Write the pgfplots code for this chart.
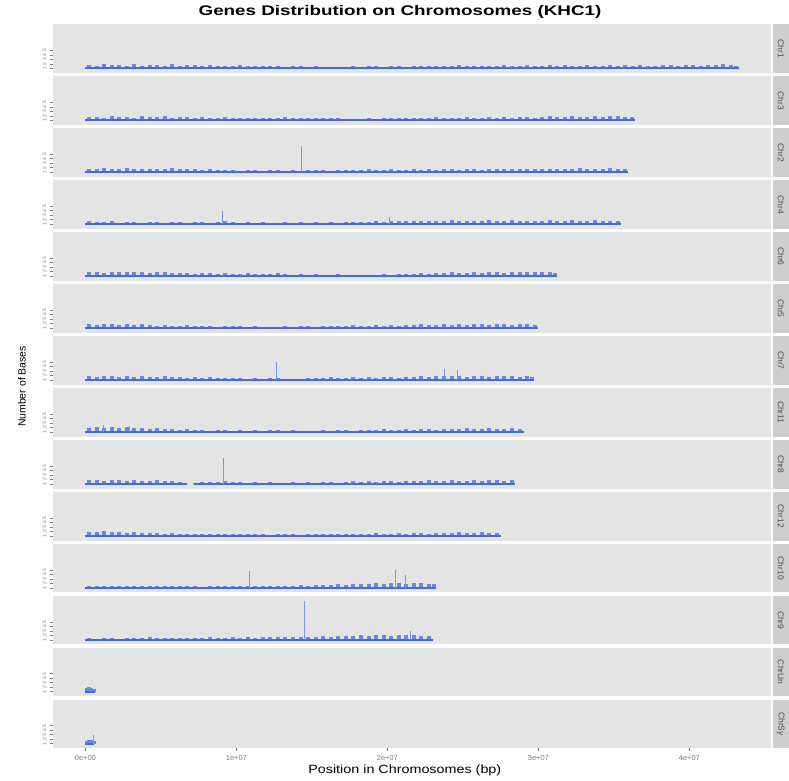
\documentclass[border=0pt]{standalone}
\usepackage{pgfplots}
\pgfplotsset{compat=1.18}
\usepgfplotslibrary{groupplots}
\usepackage{fontspec}
\setmainfont{Liberation Sans}
\definecolor{panelbg}{RGB}{229,228,228}
\definecolor{stripbg}{RGB}{206,206,206}
\definecolor{genebl}{RGB}{65,105,225}
\definecolor{ticklab}{RGB}{125,125,125}
\pgfplotsset{
  chrpanel/.style={
    width=718.6bp, height=48.45bp, scale only axis,
    xmin=-2.16, xmax=45.43, ymin=-1.04, ymax=9.73,
    axis background/.style={fill=panelbg},
    axis line style={draw=none},
    xtick=\empty,
    ytick={0,1,2,3,4}, yticklabels={1,2,3,4,5},
    ytick pos=left, xtick pos=bottom,
    yticklabel style={rotate=90, font=\fontsize{5}{5}\selectfont, text=ticklab},
    xticklabel style={font=\fontsize{7.5}{8}\selectfont, text=ticklab},
    tick style={draw=ticklab, line width=0.4bp},
    major tick length=3bp,
    tick align=outside,
    clip=false,
  },
  bars/.style={ycomb, genebl, line width=4bp, opacity=0.75, forget plot},
  spikes/.style={ycomb, genebl!70, line width=0.7bp, forget plot},
  base/.style={genebl, line width=1.8bp, forget plot},
}
\newcommand{\strip}[1]{%
  \fill[stripbg] ([xshift=1.5bp]rel axis cs:1,0) rectangle ([xshift=17.5bp]rel axis cs:1,1);
  \node[rotate=-90, font=\fontsize{8.5}{8.5}\selectfont, text=black!70] at ([xshift=9.5bp]rel axis cs:1,0.5) {#1};}
\begin{document}
\begin{tikzpicture}
\begin{groupplot}[group style={group size=1 by 14, vertical sep=3.5bp}, chrpanel]
% Chr1
\nextgroupplot
\coordinate (tl) at (rel axis cs:0,1);
\addplot[base] coordinates {(0,0) (43.27,0)};
\addplot[bars] coordinates {(0.25,.8)(0.75,.6)(1.25,.9)(1.75,.7)(2.25,.8)(2.75,.5)(3.25,.9)(3.75,.6)(4.25,.7)(4.75,.8)(5.25,.6)(5.75,.9)(6.25,.5)(6.75,.7)(7.25,.8)(7.75,.5)(8.25,.7)(8.75,.6)(9.25,.4)(9.75,.6)(10.25,.7)(10.75,.5)(11.25,.4)(11.75,.6)(12.25,.5)(12.75,.4)(13.25,.3)(13.75,.5)(14.25,.4)(14.75,.3)(15.25,.4)(15.75,.2)(16.25,.3)(16.75,.2)(17.25,.3)(17.75,.4)(18.25,.3)(18.75,.5)(19.25,.4)(19.75,.3)(20.25,.5)(20.75,.4)(21.25,.3)(21.75,.5)(22.25,.6)(22.75,.4)(23.25,.5)(23.75,.6)(24.25,.5)(24.75,.7)(25.25,.5)(25.75,.6)(26.25,.4)(26.75,.6)(27.25,.5)(27.75,.7)(28.25,.6)(28.75,.5)(29.25,.7)(29.75,.6)(30.25,.5)(30.75,.7)(31.25,.6)(31.75,.8)(32.25,.5)(32.75,.6)(33.25,.7)(33.75,.5)(34.25,.6)(34.75,.7)(35.25,.5)(35.75,.8)(36.25,.6)(36.75,.7)(37.25,.5)(37.75,.6)(38.25,.8)(38.75,.7)(39.25,.6)(39.75,.8)(40.25,.7)(40.75,.6)(41.25,.8)(41.75,.7)(42.25,.9)(42.75,.7)(43.1,.6)};
\strip{Chr1}
% Chr3
\nextgroupplot
\addplot[base] coordinates {(0,0) (36.41,0)};
\addplot[bars] coordinates {(0.25,.7)(0.75,.8)(1.25,.6)(1.75,.9)(2.25,.7)(2.75,.8)(3.25,.6)(3.75,.9)(4.25,.7)(4.75,.8)(5.25,.9)(5.75,.6)(6.25,.8)(6.75,.7)(7.25,.5)(7.75,.7)(8.25,.6)(8.75,.5)(9.25,.7)(9.75,.6)(10.25,.5)(10.75,.6)(11.25,.4)(11.75,.5)(12.25,.6)(12.75,.5)(13.25,.7)(13.75,.4)(14.25,.5)(14.75,.6)(15.25,.5)(15.75,.4)(16.25,.6)(16.75,.5)(17.25,.3)(17.75,.2)(18.25,.3)(18.75,.4)(19.25,.3)(19.75,.5)(20.25,.4)(20.75,.6)(21.25,.5)(21.75,.4)(22.25,.6)(22.75,.5)(23.25,.7)(23.75,.5)(24.25,.6)(24.75,.5)(25.25,.7)(25.75,.6)(26.25,.5)(26.75,.7)(27.25,.6)(27.75,.8)(28.25,.6)(28.75,.7)(29.25,.8)(29.75,.6)(30.25,.7)(30.75,.9)(31.25,.7)(31.75,.8)(32.25,.9)(32.75,.7)(33.25,.8)(33.75,.9)(34.25,.8)(34.75,1.0)(35.25,.9)(35.75,.8)(36.2,.7)};
\strip{Chr3}
% Chr2
\nextgroupplot
\addplot[base] coordinates {(0,0) (35.94,0)};
\addplot[bars] coordinates {(0.25,.8)(0.75,.6)(1.25,.9)(1.75,.8)(2.25,.6)(2.75,.9)(3.25,.7)(3.75,.8)(4.25,.6)(4.75,.8)(5.25,.7)(5.75,.9)(6.25,.6)(6.75,.7)(7.25,.8)(7.75,.5)(8.25,.6)(8.75,.4)(9.25,.5)(9.75,.4)(10.25,.3)(10.75,.5)(11.25,.4)(11.75,.3)(12.25,.4)(12.75,.5)(13.25,.3)(13.75,.4)(14.25,.3)(14.75,.4)(15.25,.5)(15.75,.4)(16.25,.3)(16.75,.5)(17.25,.4)(17.75,.5)(18.25,.4)(18.75,.6)(19.25,.5)(19.75,.4)(20.25,.6)(20.75,.5)(21.25,.4)(21.75,.6)(22.25,.5)(22.75,.6)(23.25,.4)(23.75,.6)(24.25,.7)(24.75,.5)(25.25,.6)(25.75,.7)(26.25,.5)(26.75,.6)(27.25,.7)(27.75,.8)(28.25,.6)(28.75,.7)(29.25,.8)(29.75,.6)(30.25,.7)(30.75,.8)(31.25,.6)(31.75,.7)(32.25,.8)(32.75,.9)(33.25,.7)(33.75,.8)(34.25,.7)(34.75,.9)(35.25,.8)(35.75,.7)};
\addplot[spikes] coordinates {(14.3,5.8)};
\strip{Chr2}
% Chr4
\nextgroupplot
\addplot[base] coordinates {(0,0) (35.50,0)};
\addplot[bars] coordinates {(0.25,.6)(0.75,.5)(1.25,.4)(1.75,.6)(2.25,.3)(2.75,.5)(3.25,.4)(3.75,.3)(4.25,.5)(4.75,.4)(5.25,.3)(5.75,.5)(6.25,.4)(6.75,.3)(7.25,.4)(7.75,.5)(8.25,.3)(8.75,.4)(9.25,.6)(9.75,.4)(10.25,.3)(10.75,.4)(11.25,.3)(11.75,.5)(12.25,.3)(12.75,.2)(13.25,.4)(13.75,.3)(14.25,.4)(14.75,.3)(15.25,.5)(15.75,.3)(16.25,.4)(16.75,.3)(17.25,.5)(17.75,.4)(18.25,.5)(18.75,.4)(19.25,.6)(19.75,.5)(20.25,.7)(20.75,.6)(21.25,.7)(21.75,.8)(22.25,.6)(22.75,.7)(23.25,.8)(23.75,.7)(24.25,.9)(24.75,.7)(25.25,.8)(25.75,.6)(26.25,.8)(26.75,.9)(27.25,.7)(27.75,.8)(28.25,.9)(28.75,.7)(29.25,.8)(29.75,.6)(30.25,.8)(30.75,.9)(31.25,.7)(31.75,.8)(32.25,.9)(32.75,.7)(33.25,.8)(33.75,.9)(34.25,.7)(34.75,.8)(35.25,.7)};
\addplot[spikes] coordinates {(9.1,3.0)(20.1,1.5)};
\strip{Chr4}
% Chr6
\nextgroupplot
\addplot[base] coordinates {(0,0) (31.25,0)};
\addplot[bars] coordinates {(0.25,.8)(0.75,.9)(1.25,.7)(1.75,.9)(2.25,.8)(2.75,1.0)(3.25,.8)(3.75,.9)(4.25,.7)(4.75,.8)(5.25,.9)(5.75,.7)(6.25,.6)(6.75,.7)(7.25,.5)(7.75,.6)(8.25,.7)(8.75,.5)(9.25,.6)(9.75,.5)(10.25,.4)(10.75,.6)(11.25,.5)(11.75,.4)(12.25,.5)(12.75,.6)(13.25,.4)(13.75,.3)(14.25,.4)(14.75,.3)(15.25,.4)(15.75,.2)(16.25,.3)(16.75,.4)(17.25,.3)(17.75,.2)(18.25,.1)(18.75,.1)(19.25,.3)(19.75,.4)(20.25,.3)(20.75,.5)(21.25,.4)(21.75,.5)(22.25,.6)(22.75,.5)(23.25,.7)(23.75,.6)(24.25,.8)(24.75,.7)(25.25,.6)(25.75,.8)(26.25,.7)(26.75,.9)(27.25,.8)(27.75,.7)(28.25,.9)(28.75,.8)(29.25,1.0)(29.75,.8)(30.25,.9)(30.75,.8)(31.1,.7)};
\strip{Chr6}
% Chr5
\nextgroupplot
\addplot[base] coordinates {(0,0) (29.96,0)};
\addplot[bars] coordinates {(0.25,.8)(0.75,.7)(1.25,.9)(1.75,.8)(2.25,.7)(2.75,.9)(3.25,.6)(3.75,.8)(4.25,.6)(4.75,.5)(5.25,.6)(5.75,.5)(6.25,.4)(6.75,.6)(7.25,.5)(7.75,.4)(8.25,.5)(8.75,.3)(9.25,.5)(9.75,.4)(10.25,.5)(10.75,.3)(11.25,.4)(11.75,.3)(12.25,.2)(12.75,.3)(13.25,.4)(13.75,.3)(14.25,.5)(14.75,.4)(15.25,.3)(15.75,.5)(16.25,.4)(16.75,.5)(17.25,.4)(17.75,.6)(18.25,.5)(18.75,.4)(19.25,.6)(19.75,.5)(20.25,.6)(20.75,.5)(21.25,.7)(21.75,.6)(22.25,.8)(22.75,.7)(23.25,.6)(23.75,.8)(24.25,.7)(24.75,.9)(25.25,.7)(25.75,.8)(26.25,.9)(26.75,.7)(27.25,.8)(27.75,.9)(28.25,.7)(28.75,.8)(29.25,.9)(29.75,.7)};
\strip{Chr5}
% Chr7
\nextgroupplot
\addplot[base] coordinates {(0,0) (29.70,0)};
\addplot[bars] coordinates {(0.25,.8)(0.75,.7)(1.25,.9)(1.75,.8)(2.25,.7)(2.75,.8)(3.25,.6)(3.75,.8)(4.25,.7)(4.75,.6)(5.25,.8)(5.75,.6)(6.25,.7)(6.75,.5)(7.25,.6)(7.75,.5)(8.25,.7)(8.75,.5)(9.25,.4)(9.75,.5)(10.25,.4)(10.75,.3)(11.25,.4)(11.75,.3)(12.25,.5)(12.75,.4)(13.25,.3)(13.75,.1)(14.25,.2)(14.75,.4)(15.25,.5)(15.75,.4)(16.25,.6)(16.75,.5)(17.25,.4)(17.75,.6)(18.25,.5)(18.75,.6)(19.25,.5)(19.75,.7)(20.25,.6)(20.75,.5)(21.25,.7)(21.75,.6)(22.25,.8)(22.75,.7)(23.25,.8)(23.75,.9)(24.25,.8)(24.75,.9)(25.25,.7)(25.75,.8)(26.25,.9)(26.75,.7)(27.25,.8)(27.75,.9)(28.25,.8)(28.75,.7)(29.25,.8)(29.6,.6)};
\addplot[spikes] coordinates {(12.67,4.1)(23.8,2.5)(24.6,2.3)};
\strip{Chr7}
% Chr11
\nextgroupplot
\addplot[base] coordinates {(0,0) (29.02,0)};
\addplot[bars] coordinates {(0.25,.9)(0.75,1.1)(1.25,.8)(1.75,1.2)(2.25,.9)(2.75,1.0)(3.25,.8)(3.75,.9)(4.25,.7)(4.75,.8)(5.25,.6)(5.75,.7)(6.25,.5)(6.75,.6)(7.25,.4)(7.75,.5)(8.25,.3)(8.75,.5)(9.25,.4)(9.75,.3)(10.25,.4)(10.75,.2)(11.25,.4)(11.75,.3)(12.25,.4)(12.75,.5)(13.25,.3)(13.75,.4)(14.25,.3)(14.75,.2)(15.25,.3)(15.75,.4)(16.25,.3)(16.75,.4)(17.25,.5)(17.75,.3)(18.25,.4)(18.75,.5)(19.25,.4)(19.75,.6)(20.25,.5)(20.75,.4)(21.25,.6)(21.75,.5)(22.25,.6)(22.75,.7)(23.25,.5)(23.75,.6)(24.25,.7)(24.75,.6)(25.25,.8)(25.75,.7)(26.25,.6)(26.75,.8)(27.25,.7)(27.75,.6)(28.25,.8)(28.75,.6)};
\addplot[spikes] coordinates {(1.2,1.6)(2.9,1.4)};
\strip{Chr11}
% Chr8
\nextgroupplot
\addplot[base] coordinates {(0,0) (6.7,0)};
\addplot[base] coordinates {(7.2,0) (28.44,0)};
\addplot[bars] coordinates {(0.25,.8)(0.75,.9)(1.25,.7)(1.75,.8)(2.25,.9)(2.75,.7)(3.25,.8)(3.75,.6)(4.25,.7)(4.75,.8)(5.25,.6)(5.75,.7)(6.25,.5)(7.25,.2)(7.75,.4)(8.25,.5)(8.75,.4)(9.25,.6)(9.75,.4)(10.25,.5)(10.75,.3)(11.25,.4)(11.75,.3)(12.25,.4)(12.75,.2)(13.25,.3)(13.75,.4)(14.25,.3)(14.75,.4)(15.25,.3)(15.75,.5)(16.25,.4)(16.75,.3)(17.25,.5)(17.75,.6)(18.25,.4)(18.75,.6)(19.25,.5)(19.75,.7)(20.25,.6)(20.75,.5)(21.25,.7)(21.75,.6)(22.25,.7)(22.75,.8)(23.25,.6)(23.75,.7)(24.25,.8)(24.75,.6)(25.25,.7)(25.75,.8)(26.25,.7)(26.75,.9)(27.25,.8)(27.75,.7)(28.25,.8)};
\addplot[spikes] coordinates {(9.13,5.7)};
\strip{Chr8}
% Chr12
\nextgroupplot
\addplot[base] coordinates {(0,0) (27.53,0)};
\addplot[bars] coordinates {(0.25,.9)(0.75,.8)(1.25,1.0)(1.75,.8)(2.25,.9)(2.75,.7)(3.25,.8)(3.75,.7)(4.25,.6)(4.75,.7)(5.25,.5)(5.75,.6)(6.25,.4)(6.75,.5)(7.25,.4)(7.75,.3)(8.25,.5)(8.75,.4)(9.25,.3)(9.75,.4)(10.25,.3)(10.75,.5)(11.25,.4)(11.75,.3)(12.25,.2)(12.75,.3)(13.25,.4)(13.75,.3)(14.25,.2)(14.75,.4)(15.25,.3)(15.75,.4)(16.25,.5)(16.75,.3)(17.25,.4)(17.75,.5)(18.25,.4)(18.75,.5)(19.25,.6)(19.75,.4)(20.25,.5)(20.75,.6)(21.25,.5)(21.75,.7)(22.25,.6)(22.75,.5)(23.25,.7)(23.75,.6)(24.25,.7)(24.75,.8)(25.25,.6)(25.75,.7)(26.25,.8)(26.75,.6)(27.25,.7)};
\strip{Chr12}
% Chr10
\nextgroupplot
\addplot[base] coordinates {(0,0) (23.21,0)};
\addplot[bars] coordinates {(0.25,.4)(0.75,.3)(1.25,.5)(1.75,.3)(2.25,.4)(2.75,.3)(3.25,.5)(3.75,.4)(4.25,.3)(4.75,.4)(5.25,.3)(5.75,.5)(6.25,.4)(6.75,.3)(7.25,.4)(7.75,.2)(8.25,.4)(8.75,.3)(9.25,.4)(9.75,.3)(10.25,.5)(10.75,.4)(11.25,.3)(11.75,.5)(12.25,.4)(12.75,.3)(13.25,.5)(13.75,.4)(14.25,.6)(14.75,.5)(15.25,.6)(15.75,.7)(16.25,.6)(16.75,.8)(17.25,.7)(17.75,.8)(18.25,.9)(18.75,.8)(19.25,1.0)(19.75,.9)(20.25,1.0)(20.75,1.1)(21.25,.9)(21.75,1.0)(22.25,1.1)(22.75,.9)(23.1,.8)};
\addplot[spikes] coordinates {(10.86,3.7)(20.5,4.0)(21.2,2.9)};
\strip{Chr10}
% Chr9
\nextgroupplot
\addplot[base] coordinates {(0,0) (23.01,0)};
\addplot[bars] coordinates {(0.25,.3)(0.75,.2)(1.25,.4)(1.75,.3)(2.25,.2)(2.75,.3)(3.25,.4)(3.75,.3)(4.25,.5)(4.75,.3)(5.25,.4)(5.75,.3)(6.25,.4)(6.75,.3)(7.25,.4)(7.75,.3)(8.25,.5)(8.75,.4)(9.25,.3)(9.75,.5)(10.25,.4)(10.75,.5)(11.25,.4)(11.75,.6)(12.25,.5)(12.75,.6)(13.25,.5)(13.75,.7)(14.25,.6)(14.75,.7)(15.25,.6)(15.75,.8)(16.25,.7)(16.75,.8)(17.25,.9)(17.75,.8)(18.25,1.0)(18.75,.9)(19.25,1.0)(19.75,1.1)(20.25,.9)(20.75,1.0)(21.25,1.1)(21.75,1.0)(22.25,.9)(22.75,.8)};
\addplot[spikes] coordinates {(14.48,8.7)(21.5,2.0)};
\strip{Chr9}
% ChrUn
\nextgroupplot
\addplot[base] coordinates {(0,0) (0.63,0)};
\addplot[bars] coordinates {(0.1,.8)(0.25,1.0)(0.4,.9)(0.55,.7)};
\strip{ChrUn}
% ChrSy
\nextgroupplot[xtick={0,10,20,30,40}, xticklabels={0e+00,1e+07,2e+07,3e+07,4e+07}]
\addplot[base] coordinates {(0,0) (0.59,0)};
\addplot[bars] coordinates {(0.1,.6)(0.25,.8)(0.4,.7)(0.55,.5)};
\addplot[spikes] coordinates {(0.5,2.0)};
\strip{ChrSy}
\end{groupplot}
\node[font=\bfseries\fontsize{14}{14}\selectfont, anchor=center, xscale=1.35] at ([xshift=347.2bp, yshift=12.5bp]tl) {Genes Distribution on Chromosomes (KHC1)};
\node[font=\fontsize{12}{12}\selectfont, anchor=center, xscale=1.2] at ([xshift=352bp, yshift=-746bp]tl) {Position in Chromosomes (bp)};
\node[font=\fontsize{10.5}{10.5}\selectfont, rotate=90, anchor=center] at ([xshift=-30.8bp, yshift=-362bp]tl) {Number of Bases};
\pgfresetboundingbox
\useasboundingbox ([xshift=-52.8bp, yshift=24.5bp]tl) rectangle ([xshift=736.2bp, yshift=-756.5bp]tl);
\end{tikzpicture}
\end{document}
